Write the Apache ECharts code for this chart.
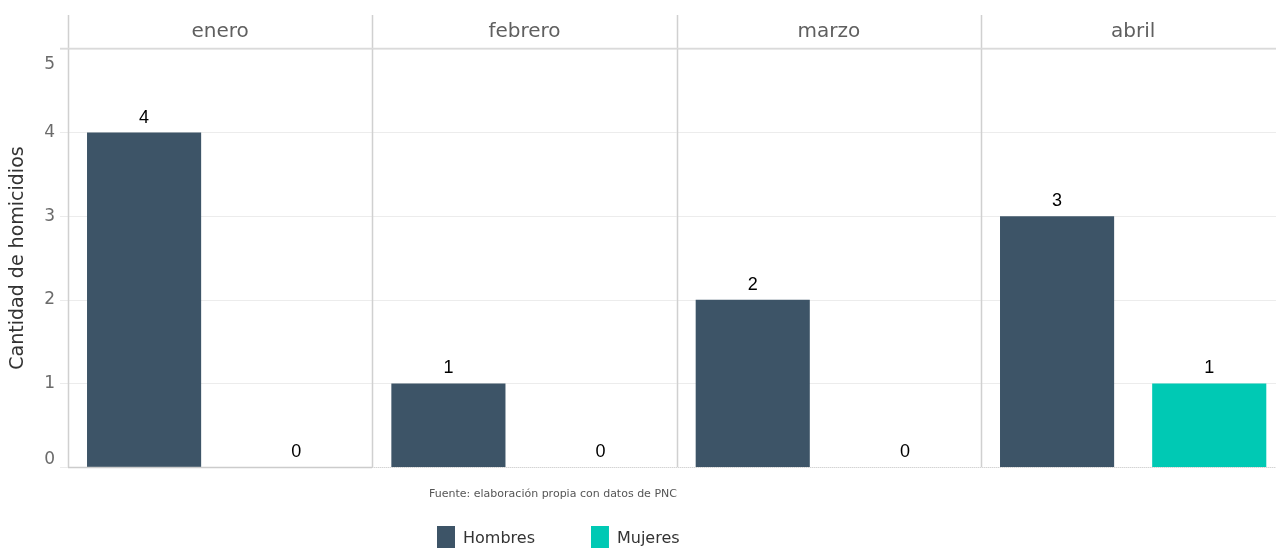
<!DOCTYPE html>
<html>
<head>
<meta charset="utf-8">
<script src="https://cdn.jsdelivr.net/npm/echarts@6/dist/echarts.min.js"></script>
<style>
  html, body { margin: 0; padding: 0; background: #ffffff; overflow: hidden; }
  #chart { width: 1290px; height: 548px; }
</style>
</head>
<body>
<div id="chart"></div>
<script>
// Homicidios por mes y sexo
const months = ['enero', 'febrero', 'marzo', 'abril'];
const sexes = ['Hombres', 'Mujeres'];
const hombres = [4, 1, 2, 3];
const mujeres = [0, 0, 0, 1];
const yTicks = [0, 1, 2, 3, 4, 5];

const FONT = '"DejaVu Sans", sans-serif';
const COLORS = { Hombres: '#3d5467', Mujeres: '#00c9b4' };

// panel geometry (facets side by side; the last one runs past the right edge)
const panelLeft = 68;
const panelW = 304.33;
const panelTop = 49;
const panelBottom = 467;
const chartH = 548;
const chartW = 1290;

const chart = echarts.init(document.getElementById('chart'));

const grids = [], xAxes = [], yAxes = [], series = [], graphics = [];

const tickStyle = { fontFamily: FONT, fontSize: 17, color: '#6b6b6b' };

months.forEach((m, i) => {
  const left = panelLeft + i * panelW;
  grids.push({ left: left, top: panelTop, width: panelW, bottom: chartH - panelBottom, containLabel: false });
  xAxes.push({
    type: 'category', gridIndex: i, data: sexes,
    axisLine: { show: false }, axisTick: { show: false }, axisLabel: { show: false },
    splitLine: { show: false }
  });
  yAxes.push({
    type: 'value', gridIndex: i, min: yTicks[0], max: yTicks[yTicks.length - 1], interval: 1,
    name: i === 0 ? 'Cantidad de homicidios' : '',
    nameLocation: 'middle', nameGap: 40, nameRotate: 90,
    nameTextStyle: { fontFamily: FONT, fontSize: 19, color: '#333333' },
    axisLine: { show: false },
    axisTick: { show: i === 0, length: 8, lineStyle: { color: '#ebebeb' } },
    axisLabel: {
      show: i === 0, margin: 13, fontFamily: FONT, fontSize: 17, color: '#6b6b6b',
      formatter: v => v === yTicks[0] ? '{lo|' + v + '}' : (v === yTicks[yTicks.length - 1] ? '{hi|' + v + '}' : '{n|' + v + '}'),
      rich: {
        n: tickStyle,
        lo: Object.assign({ padding: [0, 0, 14, 0] }, tickStyle),
        hi: Object.assign({ padding: [32, 0, 0, 0] }, tickStyle)
      }
    },
    splitLine: { show: true, lineStyle: { color: '#ececec', width: 1 } }
  });

  const labelCfg = {
    show: true, position: 'top', distance: 6,
    fontFamily: '"Liberation Sans", Arial, sans-serif', fontSize: 18, color: '#000000'
  };
  series.push({
    name: 'Hombres', type: 'bar', xAxisIndex: i, yAxisIndex: i, stack: 'p' + i,
    barCategoryGap: '25%', itemStyle: { color: COLORS.Hombres },
    label: labelCfg, data: [hombres[i], '-']
  });
  series.push({
    name: 'Mujeres', type: 'bar', xAxisIndex: i, yAxisIndex: i, stack: 'p' + i,
    barCategoryGap: '25%', itemStyle: { color: COLORS.Mujeres },
    label: labelCfg, data: ['-', mujeres[i]]
  });

  // facet strip label
  graphics.push({
    type: 'text', x: left + panelW / 2, y: 32,
    style: { text: m, fill: '#5f5f5f', font: '20px ' + FONT, textAlign: 'center', textVerticalAlign: 'middle' }
  });
  // panel left border
  graphics.push({
    type: 'line', shape: { x1: Math.round(left) + 0.5, y1: 15, x2: Math.round(left) + 0.5, y2: panelBottom },
    style: { stroke: '#d0d0d0', lineWidth: 1.5 }, z: 5
  });
});

// strip bottom line and panel bottom
graphics.push({ type: 'line', shape: { x1: 60, y1: 48.5, x2: chartW, y2: 48.5 }, style: { stroke: '#dadada', lineWidth: 1.5 }, z: 5 });
graphics.push({ type: 'line', shape: { x1: 68, y1: 467.5, x2: chartW, y2: 467.5 }, style: { stroke: '#d4d4d4', lineWidth: 1, lineDash: [1, 1] }, z: 5 });
graphics.push({ type: 'line', shape: { x1: 68, y1: 467.5, x2: 372, y2: 467.5 }, style: { stroke: '#cccccc', lineWidth: 1.5 }, z: 5 });

// source caption
graphics.push({
  type: 'text', x: 553, y: 494,
  style: { text: 'Fuente: elaboración propia con datos de PNC', fill: '#555555', font: '11px ' + FONT, textAlign: 'center', textVerticalAlign: 'middle' }
});

chart.setOption({
  animation: false,
  backgroundColor: '#ffffff',
  grid: grids,
  xAxis: xAxes,
  yAxis: yAxes,
  series: series,
  legend: {
    data: sexes, left: 437, top: 526, padding: 0, itemWidth: 18, itemHeight: 26, itemGap: 56,
    icon: 'rect', textStyle: { fontFamily: FONT, fontSize: 16, color: '#333333', padding: [6, 0, 0, 3] }
  },
  graphic: graphics
});
</script>
</body>
</html>
